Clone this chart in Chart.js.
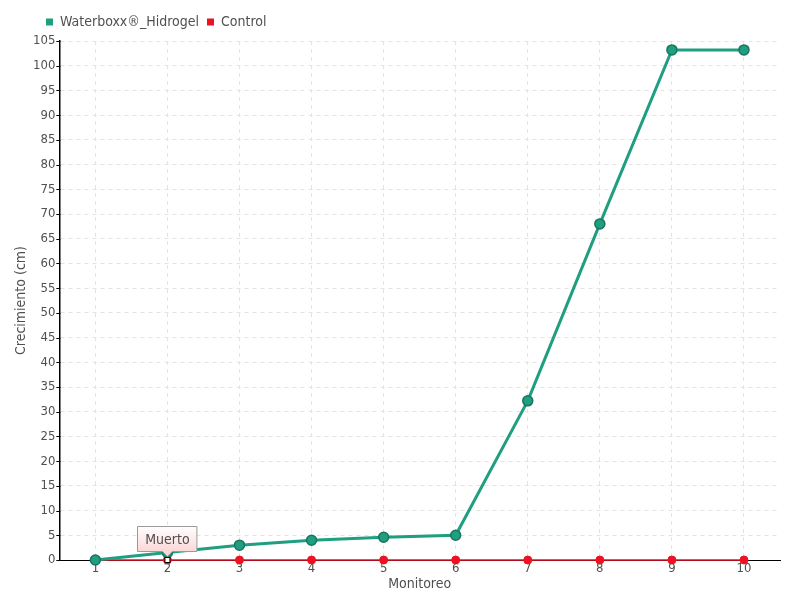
<!DOCTYPE html>
<html>
<head>
<meta charset="utf-8">
<script src="https://cdn.jsdelivr.net/npm/chart.js@4.4.1/dist/chart.umd.min.js"></script>
<style>
html,body{margin:0;padding:0;background:#fff;}
#wrap{width:800px;height:600px;}
</style>
</head>
<body>
<div id="wrap"><canvas id="c" width="800" height="600"></canvas></div>
<script>
const categories = ['1','2','3','4','5','6','7','8','9','10'];
const waterboxxValues = [0, 1.5, 3, 4, 4.6, 5, 32.2, 68, 103.2, 103.2];
const controlValues = [0, 0, 0, 0, 0, 0, 0, 0, 0, 0];
const controlNotes = ['', 'Muerto', '', '', '', '', '', '', '', ''];
const seriesNames = ['Waterboxx®_Hidrogel', 'Control'];
const axisTitles = { x: 'Monitoreo', y: 'Crecimiento (cm)' };
const yRange = { min: 0, max: 105, step: 5 };

const FONT = '"DejaVu Sans Condensed", "DejaVu Sans", sans-serif';
const TEXT = '#505050';
const GREEN = '#1f9e80';
const GREEN_DARK = '#177560';
const RED = '#ee1122';

const notePlugin = {
  id: 'notes',
  afterDatasetsDraw(chart) {
    const ctx = chart.ctx;
    const meta = chart.getDatasetMeta(1);
    controlNotes.forEach((txt, i) => {
      if (!txt) return;
      const el = meta.data[i];
      const x = el.x, y = el.y;
      ctx.save();
      ctx.fillStyle = '#ffffff';
      ctx.strokeStyle = '#000000';
      ctx.lineWidth = 1;
      ctx.fillRect(x - 2.5, y - 2.5, 5, 5);
      ctx.strokeRect(x - 2.5, y - 2.5, 5, 5);
      ctx.font = '14px ' + FONT;
      const w = Math.max(60, ctx.measureText(txt).width + 16);
      const h = 26;
      const caret = 5;
      const bx = Math.round(x - w / 2);
      const by = Math.round(y - 3 - caret - h);
      const g = ctx.createLinearGradient(0, by, 0, by + h);
      g.addColorStop(0, '#ffffff');
      g.addColorStop(1, '#fbd6d6');
      ctx.beginPath();
      ctx.moveTo(bx + 0.5, by + 0.5);
      ctx.lineTo(bx + w - 0.5, by + 0.5);
      ctx.lineTo(bx + w - 0.5, by + h - 0.5);
      ctx.lineTo(x + caret, by + h - 0.5);
      ctx.lineTo(x, by + h - 0.5 + caret);
      ctx.lineTo(x - caret, by + h - 0.5);
      ctx.lineTo(bx + 0.5, by + h - 0.5);
      ctx.closePath();
      ctx.fillStyle = g;
      ctx.fill();
      ctx.strokeStyle = '#9a9a9a';
      ctx.stroke();
      ctx.fillStyle = TEXT;
      ctx.textAlign = 'center';
      ctx.textBaseline = 'middle';
      ctx.fillText(txt, x, by + h / 2 + 1);
      ctx.restore();
    });
  }
};

const legendShift = {
  id: 'legendShift',
  beforeDraw(chart) {
    const lg = chart.legend;
    if (!lg || lg._shifted) return;
    const dx = 24;
    lg.left += dx; lg.right += dx;
    lg.top -= 2; lg.bottom -= 2;
    if (lg.legendHitBoxes) lg.legendHitBoxes.forEach(b => { b.left += dx; b.top -= 2; });
    lg._shifted = true;
  }
};

const yTickMarks = {
  id: 'ytickmarks',
  afterDraw(chart) {
    const ys = chart.scales.y;
    const ctx = chart.ctx;
    ctx.save();
    ctx.strokeStyle = '#000';
    ctx.lineWidth = 1;
    ys.ticks.forEach((t, i) => {
      const y = Math.round(ys.getPixelForTick(i)) + 0.5;
      ctx.beginPath();
      ctx.moveTo(ys.right - 3, y);
      ctx.lineTo(ys.right + 1, y);
      ctx.stroke();
    });
    ctx.restore();
  }
};

new Chart(document.getElementById('c'), {
  type: 'line',
  data: {
    labels: categories,
    datasets: [
      {
        label: seriesNames[0],
        data: waterboxxValues,
        borderColor: GREEN,
        backgroundColor: GREEN,
        borderWidth: 3,
        pointRadius: 5,
        pointBackgroundColor: GREEN,
        pointBorderColor: GREEN_DARK,
        pointBorderWidth: 1.5,
        tension: 0,
        fill: false,
        clip: false
      },
      {
        label: seriesNames[1],
        data: controlValues,
        borderColor: RED,
        backgroundColor: RED,
        borderWidth: 1.5,
        pointRadius: 4,
        pointBackgroundColor: RED,
        pointBorderColor: RED,
        pointBorderWidth: 1,
        tension: 0,
        fill: false,
        clip: false
      }
    ]
  },
  options: {
    responsive: false,
    animation: false,
    devicePixelRatio: 1,
    layout: { padding: { top: 9, right: 20, left: 14, bottom: 9 } },
    plugins: {
      legend: {
        display: true,
        position: 'top',
        align: 'start',
        labels: {
          boxWidth: 7,
          boxHeight: 7,
          padding: 8,
          color: TEXT,
          font: { family: FONT, size: 14 },
          generateLabels(chart) {
            return chart.data.datasets.map((ds, i) => ({
              text: ds.label,
              fillStyle: ds.borderColor,
              strokeStyle: ds.borderColor,
              lineWidth: 0,
              fontColor: TEXT,
              datasetIndex: i
            }));
          }
        }
      },
      tooltip: { enabled: false }
    },
    scales: {
      x: {
        type: 'category',
        offset: true,
        grid: {
          display: true,
          color: '#e4e4e4',
          drawTicks: false,
          offset: false
        },
        border: { display: true, color: '#000000', width: 1, dash: [4, 4] },
        ticks: { color: TEXT, font: { family: FONT, size: 13, lineHeight: 1 }, padding: 2 },
        title: { display: true, text: axisTitles.x, color: TEXT, font: { family: FONT, size: 14, lineHeight: 1 }, padding: { top: 0, bottom: 0 } }
      },
      y: {
        min: yRange.min,
        max: yRange.max,
        grid: {
          color: '#e4e4e4',
          drawTicks: false
        },
        border: { display: true, color: '#000000', width: 1.5, dash: [4, 4] },
        ticks: { stepSize: yRange.step, color: TEXT, font: { family: FONT, size: 13 }, padding: 4 },
        title: { display: true, text: axisTitles.y, color: TEXT, font: { family: FONT, size: 14, lineHeight: 1 }, padding: { top: 0, bottom: 1 } }
      }
    }
  },
  plugins: [notePlugin, legendShift, yTickMarks]
});
</script>
</body>
</html>
